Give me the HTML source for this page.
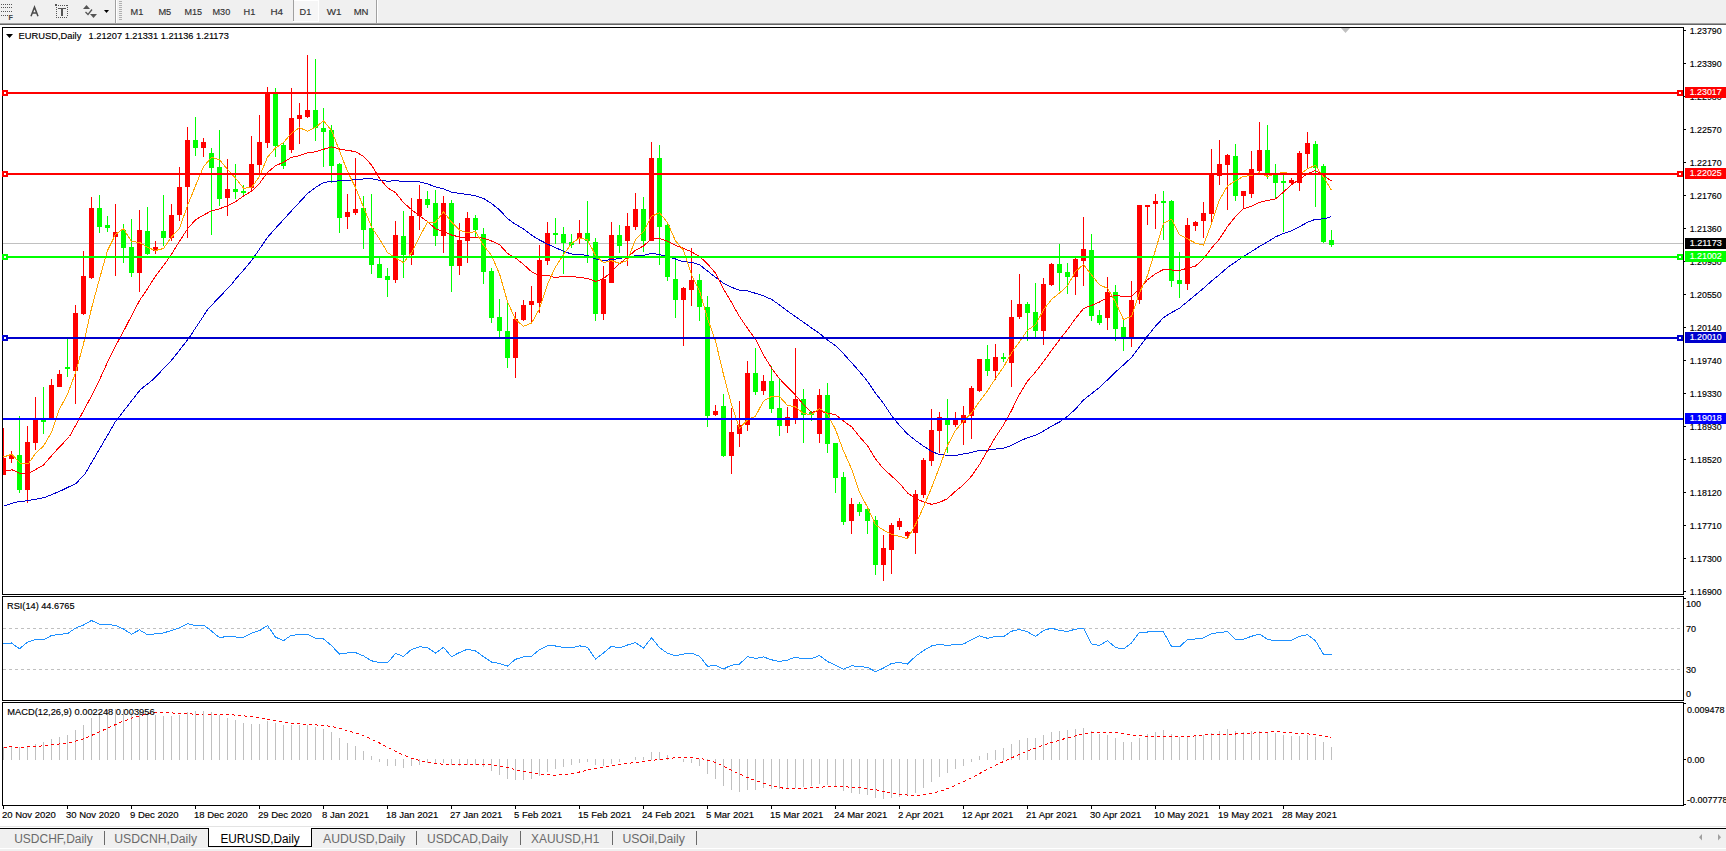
<!DOCTYPE html>
<html><head><meta charset="utf-8"><style>html,body{margin:0;padding:0;background:#fff;width:1726px;height:851px;overflow:hidden}svg{display:block}text{font-family:"Liberation Sans",sans-serif}</style></head>
<body><svg width="1726" height="851" viewBox="0 0 1726 851" font-family="Liberation Sans, sans-serif"><rect x="0" y="0" width="1726" height="23" fill="#f0f0f0"/>
<rect x="0" y="23" width="1726" height="1" fill="#a0a0a0"/>
<rect x="0" y="24" width="1726" height="1" fill="#646464"/>
<rect x="1" y="4" width="1" height="1" fill="#555"/>
<rect x="3" y="4" width="1" height="1" fill="#555"/>
<rect x="5" y="4" width="1" height="1" fill="#555"/>
<rect x="7" y="4" width="1" height="1" fill="#555"/>
<rect x="9" y="4" width="1" height="1" fill="#555"/>
<rect x="11" y="4" width="1" height="1" fill="#555"/>
<rect x="1" y="7" width="1" height="1" fill="#555"/>
<rect x="3" y="7" width="1" height="1" fill="#555"/>
<rect x="5" y="7" width="1" height="1" fill="#555"/>
<rect x="7" y="7" width="1" height="1" fill="#555"/>
<rect x="9" y="7" width="1" height="1" fill="#555"/>
<rect x="11" y="7" width="1" height="1" fill="#555"/>
<rect x="1" y="11" width="1" height="1" fill="#555"/>
<rect x="3" y="11" width="1" height="1" fill="#555"/>
<rect x="5" y="11" width="1" height="1" fill="#555"/>
<rect x="7" y="11" width="1" height="1" fill="#555"/>
<rect x="9" y="11" width="1" height="1" fill="#555"/>
<rect x="11" y="11" width="1" height="1" fill="#555"/>
<rect x="1" y="15" width="1" height="1" fill="#555"/>
<rect x="3" y="15" width="1" height="1" fill="#555"/>
<rect x="5" y="15" width="1" height="1" fill="#555"/>
<rect x="7" y="15" width="1" height="1" fill="#555"/>
<text x="8.5" y="20" font-size="7" fill="#444" stroke="#444" stroke-width="0.15" font-weight="bold">F</text>
<path d="M31 16.3 L34.5 7.2 L38 16.3 M32.3 13 L36.7 13" stroke="#4a4a4a" stroke-width="1.5" fill="none"/>
<rect x="56" y="5" width="1" height="1" fill="#555"/>
<rect x="56" y="17" width="1" height="1" fill="#555"/>
<rect x="58" y="5" width="1" height="1" fill="#555"/>
<rect x="58" y="17" width="1" height="1" fill="#555"/>
<rect x="60" y="5" width="1" height="1" fill="#555"/>
<rect x="60" y="17" width="1" height="1" fill="#555"/>
<rect x="62" y="5" width="1" height="1" fill="#555"/>
<rect x="62" y="17" width="1" height="1" fill="#555"/>
<rect x="64" y="5" width="1" height="1" fill="#555"/>
<rect x="64" y="17" width="1" height="1" fill="#555"/>
<rect x="66" y="5" width="1" height="1" fill="#555"/>
<rect x="66" y="17" width="1" height="1" fill="#555"/>
<rect x="56" y="7" width="1" height="1" fill="#555"/>
<rect x="67" y="5" width="1" height="1" fill="#555"/>
<rect x="56" y="9" width="1" height="1" fill="#555"/>
<rect x="67" y="7" width="1" height="1" fill="#555"/>
<rect x="56" y="11" width="1" height="1" fill="#555"/>
<rect x="67" y="9" width="1" height="1" fill="#555"/>
<rect x="56" y="13" width="1" height="1" fill="#555"/>
<rect x="67" y="11" width="1" height="1" fill="#555"/>
<rect x="56" y="15" width="1" height="1" fill="#555"/>
<rect x="67" y="13" width="1" height="1" fill="#555"/>
<rect x="56" y="17" width="1" height="1" fill="#555"/>
<rect x="67" y="15" width="1" height="1" fill="#555"/>
<rect x="55" y="4" width="2" height="2" fill="#555"/>
<rect x="58" y="8" width="8" height="1" fill="#555"/>
<rect x="61" y="8" width="2" height="8" fill="#555"/>
<path d="M83 9 L86.5 5 L90 9 Z" fill="#555"/>
<path d="M90 14 L97 14 L93.5 18 Z" fill="#555"/>
<path d="M85.5 12 L88 14.5 L92 9.5" stroke="#555" stroke-width="1.3" fill="none"/>
<path d="M104 10 L109 10 L106.5 13 Z" fill="#000"/>
<rect x="115" y="0" width="1" height="23" fill="#a0a0a0"/>
<rect x="116" y="0" width="1" height="23" fill="#ffffff"/>
<rect x="119" y="1" width="3" height="1" fill="#b0b0b0"/>
<rect x="119" y="3" width="3" height="1" fill="#b0b0b0"/>
<rect x="119" y="5" width="3" height="1" fill="#b0b0b0"/>
<rect x="119" y="7" width="3" height="1" fill="#b0b0b0"/>
<rect x="119" y="9" width="3" height="1" fill="#b0b0b0"/>
<rect x="119" y="11" width="3" height="1" fill="#b0b0b0"/>
<rect x="119" y="13" width="3" height="1" fill="#b0b0b0"/>
<rect x="119" y="15" width="3" height="1" fill="#b0b0b0"/>
<rect x="119" y="17" width="3" height="1" fill="#b0b0b0"/>
<rect x="119" y="19" width="3" height="1" fill="#b0b0b0"/>
<rect x="293" y="0" width="26" height="22" fill="#ffffff"/>
<rect x="294" y="1" width="24" height="20" fill="#f6f6f6"/>
<rect x="293" y="0" width="1" height="21" fill="#a0a0a0"/>
<rect x="376" y="0" width="1" height="23" fill="#a0a0a0"/>
<rect x="377" y="0" width="1" height="23" fill="#ffffff"/>
<text x="130.5" y="15" font-size="9" fill="#333" stroke="#333" stroke-width="0.15" textLength="12.8" lengthAdjust="spacingAndGlyphs">M1</text>
<text x="158.4" y="15" font-size="9" fill="#333" stroke="#333" stroke-width="0.15" textLength="12.9" lengthAdjust="spacingAndGlyphs">M5</text>
<text x="184.5" y="15" font-size="9" fill="#333" stroke="#333" stroke-width="0.15" textLength="17.6" lengthAdjust="spacingAndGlyphs">M15</text>
<text x="212.5" y="15" font-size="9" fill="#333" stroke="#333" stroke-width="0.15" textLength="17.7" lengthAdjust="spacingAndGlyphs">M30</text>
<text x="243.6" y="15" font-size="9" fill="#333" stroke="#333" stroke-width="0.15" textLength="11.8" lengthAdjust="spacingAndGlyphs">H1</text>
<text x="270.5" y="15" font-size="9" fill="#333" stroke="#333" stroke-width="0.15" textLength="12.6" lengthAdjust="spacingAndGlyphs">H4</text>
<text x="299.6" y="15" font-size="9" fill="#333" stroke="#333" stroke-width="0.15" textLength="11.7" lengthAdjust="spacingAndGlyphs">D1</text>
<text x="326.8" y="15" font-size="9" fill="#333" stroke="#333" stroke-width="0.15" textLength="14.8" lengthAdjust="spacingAndGlyphs">W1</text>
<text x="353.7" y="15" font-size="9" fill="#333" stroke="#333" stroke-width="0.15" textLength="14.8" lengthAdjust="spacingAndGlyphs">MN</text>
<rect x="2" y="27" width="1682" height="1" fill="#000"/>
<rect x="2" y="594" width="1682" height="1" fill="#000"/>
<rect x="2" y="27" width="1" height="568" fill="#000"/>
<rect x="1683" y="27" width="1" height="568" fill="#000"/>
<rect x="2" y="596" width="1682" height="1" fill="#000"/>
<rect x="2" y="700" width="1682" height="1" fill="#000"/>
<rect x="2" y="596" width="1" height="105" fill="#000"/>
<rect x="1683" y="596" width="1" height="105" fill="#000"/>
<rect x="2" y="702" width="1682" height="1" fill="#000"/>
<rect x="2" y="805" width="1682" height="1" fill="#000"/>
<rect x="2" y="702" width="1" height="104" fill="#000"/>
<rect x="1683" y="702" width="1" height="104" fill="#000"/>
<g shape-rendering="crispEdges">
<clipPath id="cm"><rect x="3" y="28" width="1680" height="566"/></clipPath>
<clipPath id="cr"><rect x="3" y="597" width="1680" height="103"/></clipPath>
<clipPath id="cd"><rect x="3" y="703" width="1680" height="102"/></clipPath>
</g>
<rect x="3" y="243" width="1680" height="1" fill="#c0c0c0"/>
<path d="M1341 28 L1350 28 L1345.5 33 Z" fill="#c0c0c0"/>
<g clip-path="url(#cm)" shape-rendering="crispEdges">
<rect x="3" y="428" width="1" height="47" fill="#ff0000"/>
<rect x="1" y="458" width="5" height="17" fill="#ff0000"/>
<rect x="11" y="451" width="1" height="12" fill="#ff0000"/>
<rect x="9" y="455" width="5" height="4" fill="#ff0000"/>
<rect x="19" y="416" width="1" height="77" fill="#00ff00"/>
<rect x="17" y="455" width="5" height="35" fill="#00ff00"/>
<rect x="27" y="426" width="1" height="77" fill="#ff0000"/>
<rect x="25" y="442" width="5" height="48" fill="#ff0000"/>
<rect x="35" y="397" width="1" height="53" fill="#ff0000"/>
<rect x="33" y="420" width="5" height="23" fill="#ff0000"/>
<rect x="43" y="387" width="1" height="47" fill="#00ff00"/>
<rect x="41" y="420" width="5" height="2" fill="#00ff00"/>
<rect x="51" y="379" width="1" height="40" fill="#ff0000"/>
<rect x="49" y="385" width="5" height="34" fill="#ff0000"/>
<rect x="59" y="370" width="1" height="17" fill="#ff0000"/>
<rect x="57" y="374" width="5" height="13" fill="#ff0000"/>
<rect x="67" y="339" width="1" height="38" fill="#00ff00"/>
<rect x="65" y="367" width="5" height="2" fill="#00ff00"/>
<rect x="75" y="305" width="1" height="99" fill="#ff0000"/>
<rect x="73" y="313" width="5" height="58" fill="#ff0000"/>
<rect x="83" y="251" width="1" height="64" fill="#ff0000"/>
<rect x="81" y="276" width="5" height="38" fill="#ff0000"/>
<rect x="91" y="197" width="1" height="82" fill="#ff0000"/>
<rect x="89" y="208" width="5" height="70" fill="#ff0000"/>
<rect x="99" y="195" width="1" height="38" fill="#00ff00"/>
<rect x="97" y="208" width="5" height="19" fill="#00ff00"/>
<rect x="107" y="216" width="1" height="16" fill="#00ff00"/>
<rect x="105" y="225" width="5" height="3" fill="#00ff00"/>
<rect x="115" y="204" width="1" height="72" fill="#ff0000"/>
<rect x="113" y="232" width="5" height="5" fill="#ff0000"/>
<rect x="123" y="224" width="1" height="39" fill="#00ff00"/>
<rect x="121" y="230" width="5" height="18" fill="#00ff00"/>
<rect x="131" y="219" width="1" height="58" fill="#00ff00"/>
<rect x="129" y="247" width="5" height="26" fill="#00ff00"/>
<rect x="139" y="210" width="1" height="82" fill="#ff0000"/>
<rect x="137" y="230" width="5" height="43" fill="#ff0000"/>
<rect x="147" y="207" width="1" height="48" fill="#00ff00"/>
<rect x="145" y="231" width="5" height="23" fill="#00ff00"/>
<rect x="155" y="241" width="1" height="13" fill="#ff0000"/>
<rect x="153" y="247" width="5" height="4" fill="#ff0000"/>
<rect x="163" y="195" width="1" height="51" fill="#00ff00"/>
<rect x="161" y="231" width="5" height="7" fill="#00ff00"/>
<rect x="171" y="204" width="1" height="37" fill="#ff0000"/>
<rect x="169" y="215" width="5" height="23" fill="#ff0000"/>
<rect x="179" y="167" width="1" height="54" fill="#ff0000"/>
<rect x="177" y="187" width="5" height="28" fill="#ff0000"/>
<rect x="187" y="127" width="1" height="111" fill="#ff0000"/>
<rect x="185" y="140" width="5" height="47" fill="#ff0000"/>
<rect x="195" y="117" width="1" height="39" fill="#00ff00"/>
<rect x="193" y="140" width="5" height="8" fill="#00ff00"/>
<rect x="203" y="138" width="1" height="19" fill="#ff0000"/>
<rect x="201" y="142" width="5" height="6" fill="#ff0000"/>
<rect x="211" y="148" width="1" height="87" fill="#00ff00"/>
<rect x="209" y="153" width="5" height="15" fill="#00ff00"/>
<rect x="219" y="130" width="1" height="76" fill="#00ff00"/>
<rect x="217" y="167" width="5" height="32" fill="#00ff00"/>
<rect x="227" y="159" width="1" height="57" fill="#ff0000"/>
<rect x="225" y="189" width="5" height="9" fill="#ff0000"/>
<rect x="235" y="164" width="1" height="35" fill="#00ff00"/>
<rect x="233" y="189" width="5" height="3" fill="#00ff00"/>
<rect x="243" y="185" width="1" height="12" fill="#00ff00"/>
<rect x="241" y="191" width="5" height="2" fill="#00ff00"/>
<rect x="251" y="136" width="1" height="56" fill="#ff0000"/>
<rect x="249" y="164" width="5" height="24" fill="#ff0000"/>
<rect x="259" y="115" width="1" height="58" fill="#ff0000"/>
<rect x="257" y="142" width="5" height="23" fill="#ff0000"/>
<rect x="267" y="87" width="1" height="61" fill="#ff0000"/>
<rect x="265" y="92" width="5" height="51" fill="#ff0000"/>
<rect x="275" y="88" width="1" height="69" fill="#00ff00"/>
<rect x="273" y="94" width="5" height="52" fill="#00ff00"/>
<rect x="283" y="142" width="1" height="27" fill="#00ff00"/>
<rect x="281" y="145" width="5" height="21" fill="#00ff00"/>
<rect x="291" y="88" width="1" height="65" fill="#ff0000"/>
<rect x="289" y="118" width="5" height="32" fill="#ff0000"/>
<rect x="299" y="103" width="1" height="41" fill="#ff0000"/>
<rect x="297" y="115" width="5" height="4" fill="#ff0000"/>
<rect x="307" y="55" width="1" height="63" fill="#ff0000"/>
<rect x="305" y="110" width="5" height="7" fill="#ff0000"/>
<rect x="315" y="59" width="1" height="82" fill="#00ff00"/>
<rect x="313" y="110" width="5" height="18" fill="#00ff00"/>
<rect x="323" y="108" width="1" height="59" fill="#00ff00"/>
<rect x="321" y="128" width="5" height="4" fill="#00ff00"/>
<rect x="331" y="125" width="1" height="58" fill="#00ff00"/>
<rect x="329" y="130" width="5" height="36" fill="#00ff00"/>
<rect x="339" y="163" width="1" height="70" fill="#00ff00"/>
<rect x="337" y="164" width="5" height="54" fill="#00ff00"/>
<rect x="347" y="194" width="1" height="35" fill="#ff0000"/>
<rect x="345" y="212" width="5" height="5" fill="#ff0000"/>
<rect x="355" y="158" width="1" height="57" fill="#ff0000"/>
<rect x="353" y="209" width="5" height="4" fill="#ff0000"/>
<rect x="363" y="196" width="1" height="53" fill="#00ff00"/>
<rect x="361" y="208" width="5" height="22" fill="#00ff00"/>
<rect x="371" y="194" width="1" height="80" fill="#00ff00"/>
<rect x="369" y="228" width="5" height="37" fill="#00ff00"/>
<rect x="379" y="258" width="1" height="20" fill="#00ff00"/>
<rect x="377" y="264" width="5" height="14" fill="#00ff00"/>
<rect x="387" y="268" width="1" height="29" fill="#00ff00"/>
<rect x="385" y="276" width="5" height="4" fill="#00ff00"/>
<rect x="395" y="221" width="1" height="62" fill="#ff0000"/>
<rect x="393" y="235" width="5" height="45" fill="#ff0000"/>
<rect x="403" y="211" width="1" height="67" fill="#00ff00"/>
<rect x="401" y="236" width="5" height="19" fill="#00ff00"/>
<rect x="411" y="198" width="1" height="67" fill="#ff0000"/>
<rect x="409" y="216" width="5" height="39" fill="#ff0000"/>
<rect x="419" y="185" width="1" height="45" fill="#ff0000"/>
<rect x="417" y="199" width="5" height="17" fill="#ff0000"/>
<rect x="427" y="191" width="1" height="17" fill="#00ff00"/>
<rect x="425" y="199" width="5" height="6" fill="#00ff00"/>
<rect x="435" y="190" width="1" height="56" fill="#00ff00"/>
<rect x="433" y="203" width="5" height="33" fill="#00ff00"/>
<rect x="443" y="196" width="1" height="57" fill="#ff0000"/>
<rect x="441" y="203" width="5" height="33" fill="#ff0000"/>
<rect x="451" y="200" width="1" height="92" fill="#00ff00"/>
<rect x="449" y="203" width="5" height="63" fill="#00ff00"/>
<rect x="459" y="223" width="1" height="52" fill="#ff0000"/>
<rect x="457" y="240" width="5" height="26" fill="#ff0000"/>
<rect x="467" y="212" width="1" height="51" fill="#ff0000"/>
<rect x="465" y="218" width="5" height="23" fill="#ff0000"/>
<rect x="475" y="215" width="1" height="23" fill="#00ff00"/>
<rect x="473" y="218" width="5" height="12" fill="#00ff00"/>
<rect x="483" y="228" width="1" height="56" fill="#00ff00"/>
<rect x="481" y="234" width="5" height="38" fill="#00ff00"/>
<rect x="491" y="268" width="1" height="55" fill="#00ff00"/>
<rect x="489" y="271" width="5" height="47" fill="#00ff00"/>
<rect x="499" y="299" width="1" height="38" fill="#00ff00"/>
<rect x="497" y="317" width="5" height="14" fill="#00ff00"/>
<rect x="507" y="303" width="1" height="65" fill="#00ff00"/>
<rect x="505" y="331" width="5" height="27" fill="#00ff00"/>
<rect x="515" y="312" width="1" height="66" fill="#ff0000"/>
<rect x="513" y="319" width="5" height="39" fill="#ff0000"/>
<rect x="523" y="300" width="1" height="21" fill="#ff0000"/>
<rect x="521" y="305" width="5" height="15" fill="#ff0000"/>
<rect x="531" y="286" width="1" height="37" fill="#ff0000"/>
<rect x="529" y="301" width="5" height="4" fill="#ff0000"/>
<rect x="539" y="245" width="1" height="68" fill="#ff0000"/>
<rect x="537" y="260" width="5" height="43" fill="#ff0000"/>
<rect x="547" y="222" width="1" height="43" fill="#ff0000"/>
<rect x="545" y="233" width="5" height="28" fill="#ff0000"/>
<rect x="555" y="218" width="1" height="26" fill="#00ff00"/>
<rect x="553" y="233" width="5" height="2" fill="#00ff00"/>
<rect x="563" y="227" width="1" height="47" fill="#00ff00"/>
<rect x="561" y="234" width="5" height="9" fill="#00ff00"/>
<rect x="571" y="234" width="1" height="14" fill="#00ff00"/>
<rect x="569" y="242" width="5" height="3" fill="#00ff00"/>
<rect x="579" y="220" width="1" height="24" fill="#ff0000"/>
<rect x="577" y="233" width="5" height="6" fill="#ff0000"/>
<rect x="587" y="201" width="1" height="62" fill="#00ff00"/>
<rect x="585" y="233" width="5" height="8" fill="#00ff00"/>
<rect x="595" y="238" width="1" height="83" fill="#00ff00"/>
<rect x="593" y="242" width="5" height="72" fill="#00ff00"/>
<rect x="603" y="266" width="1" height="54" fill="#ff0000"/>
<rect x="601" y="279" width="5" height="35" fill="#ff0000"/>
<rect x="611" y="222" width="1" height="61" fill="#ff0000"/>
<rect x="609" y="235" width="5" height="48" fill="#ff0000"/>
<rect x="619" y="225" width="1" height="28" fill="#00ff00"/>
<rect x="617" y="235" width="5" height="11" fill="#00ff00"/>
<rect x="627" y="213" width="1" height="53" fill="#ff0000"/>
<rect x="625" y="226" width="5" height="15" fill="#ff0000"/>
<rect x="635" y="193" width="1" height="37" fill="#ff0000"/>
<rect x="633" y="209" width="5" height="18" fill="#ff0000"/>
<rect x="643" y="197" width="1" height="55" fill="#00ff00"/>
<rect x="641" y="209" width="5" height="32" fill="#00ff00"/>
<rect x="651" y="142" width="1" height="99" fill="#ff0000"/>
<rect x="649" y="158" width="5" height="83" fill="#ff0000"/>
<rect x="659" y="145" width="1" height="120" fill="#00ff00"/>
<rect x="657" y="158" width="5" height="69" fill="#00ff00"/>
<rect x="667" y="224" width="1" height="57" fill="#00ff00"/>
<rect x="665" y="225" width="5" height="52" fill="#00ff00"/>
<rect x="675" y="260" width="1" height="58" fill="#00ff00"/>
<rect x="673" y="279" width="5" height="21" fill="#00ff00"/>
<rect x="683" y="287" width="1" height="59" fill="#ff0000"/>
<rect x="681" y="288" width="5" height="12" fill="#ff0000"/>
<rect x="691" y="248" width="1" height="58" fill="#ff0000"/>
<rect x="689" y="280" width="5" height="10" fill="#ff0000"/>
<rect x="699" y="274" width="1" height="47" fill="#00ff00"/>
<rect x="697" y="280" width="5" height="27" fill="#00ff00"/>
<rect x="707" y="296" width="1" height="131" fill="#00ff00"/>
<rect x="705" y="307" width="5" height="109" fill="#00ff00"/>
<rect x="715" y="405" width="1" height="11" fill="#ff0000"/>
<rect x="713" y="411" width="5" height="4" fill="#ff0000"/>
<rect x="723" y="394" width="1" height="63" fill="#00ff00"/>
<rect x="721" y="406" width="5" height="50" fill="#00ff00"/>
<rect x="731" y="408" width="1" height="66" fill="#ff0000"/>
<rect x="729" y="432" width="5" height="24" fill="#ff0000"/>
<rect x="739" y="401" width="1" height="46" fill="#ff0000"/>
<rect x="737" y="425" width="5" height="9" fill="#ff0000"/>
<rect x="747" y="361" width="1" height="70" fill="#ff0000"/>
<rect x="745" y="373" width="5" height="52" fill="#ff0000"/>
<rect x="755" y="348" width="1" height="47" fill="#00ff00"/>
<rect x="753" y="373" width="5" height="19" fill="#00ff00"/>
<rect x="763" y="375" width="1" height="20" fill="#ff0000"/>
<rect x="761" y="381" width="5" height="10" fill="#ff0000"/>
<rect x="771" y="366" width="1" height="47" fill="#00ff00"/>
<rect x="769" y="381" width="5" height="28" fill="#00ff00"/>
<rect x="779" y="378" width="1" height="58" fill="#00ff00"/>
<rect x="777" y="408" width="5" height="18" fill="#00ff00"/>
<rect x="787" y="407" width="1" height="26" fill="#ff0000"/>
<rect x="785" y="417" width="5" height="9" fill="#ff0000"/>
<rect x="795" y="348" width="1" height="76" fill="#ff0000"/>
<rect x="793" y="399" width="5" height="19" fill="#ff0000"/>
<rect x="803" y="389" width="1" height="54" fill="#00ff00"/>
<rect x="801" y="399" width="5" height="16" fill="#00ff00"/>
<rect x="811" y="411" width="1" height="10" fill="#00ff00"/>
<rect x="809" y="412" width="5" height="3" fill="#00ff00"/>
<rect x="819" y="389" width="1" height="54" fill="#ff0000"/>
<rect x="817" y="395" width="5" height="39" fill="#ff0000"/>
<rect x="827" y="383" width="1" height="70" fill="#00ff00"/>
<rect x="825" y="395" width="5" height="49" fill="#00ff00"/>
<rect x="835" y="443" width="1" height="50" fill="#00ff00"/>
<rect x="833" y="443" width="5" height="35" fill="#00ff00"/>
<rect x="843" y="472" width="1" height="53" fill="#00ff00"/>
<rect x="841" y="477" width="5" height="45" fill="#00ff00"/>
<rect x="851" y="498" width="1" height="36" fill="#ff0000"/>
<rect x="849" y="504" width="5" height="17" fill="#ff0000"/>
<rect x="859" y="502" width="1" height="14" fill="#00ff00"/>
<rect x="857" y="504" width="5" height="8" fill="#00ff00"/>
<rect x="867" y="507" width="1" height="27" fill="#00ff00"/>
<rect x="865" y="509" width="5" height="12" fill="#00ff00"/>
<rect x="875" y="516" width="1" height="59" fill="#00ff00"/>
<rect x="873" y="520" width="5" height="45" fill="#00ff00"/>
<rect x="883" y="535" width="1" height="46" fill="#ff0000"/>
<rect x="881" y="548" width="5" height="17" fill="#ff0000"/>
<rect x="891" y="523" width="1" height="51" fill="#ff0000"/>
<rect x="889" y="525" width="5" height="25" fill="#ff0000"/>
<rect x="899" y="518" width="1" height="12" fill="#ff0000"/>
<rect x="897" y="521" width="5" height="6" fill="#ff0000"/>
<rect x="907" y="531" width="1" height="8" fill="#ff0000"/>
<rect x="905" y="532" width="5" height="4" fill="#ff0000"/>
<rect x="915" y="490" width="1" height="64" fill="#ff0000"/>
<rect x="913" y="494" width="5" height="39" fill="#ff0000"/>
<rect x="923" y="458" width="1" height="40" fill="#ff0000"/>
<rect x="921" y="460" width="5" height="35" fill="#ff0000"/>
<rect x="931" y="409" width="1" height="57" fill="#ff0000"/>
<rect x="929" y="430" width="5" height="31" fill="#ff0000"/>
<rect x="939" y="412" width="1" height="41" fill="#ff0000"/>
<rect x="937" y="417" width="5" height="14" fill="#ff0000"/>
<rect x="947" y="399" width="1" height="54" fill="#00ff00"/>
<rect x="945" y="420" width="5" height="5" fill="#00ff00"/>
<rect x="955" y="412" width="1" height="15" fill="#ff0000"/>
<rect x="953" y="418" width="5" height="7" fill="#ff0000"/>
<rect x="963" y="406" width="1" height="39" fill="#ff0000"/>
<rect x="961" y="415" width="5" height="8" fill="#ff0000"/>
<rect x="971" y="386" width="1" height="53" fill="#ff0000"/>
<rect x="969" y="388" width="5" height="28" fill="#ff0000"/>
<rect x="979" y="359" width="1" height="33" fill="#ff0000"/>
<rect x="977" y="359" width="5" height="32" fill="#ff0000"/>
<rect x="987" y="345" width="1" height="31" fill="#00ff00"/>
<rect x="985" y="359" width="5" height="12" fill="#00ff00"/>
<rect x="995" y="344" width="1" height="36" fill="#ff0000"/>
<rect x="993" y="357" width="5" height="14" fill="#ff0000"/>
<rect x="1003" y="353" width="1" height="9" fill="#00ff00"/>
<rect x="1001" y="357" width="5" height="2" fill="#00ff00"/>
<rect x="1011" y="300" width="1" height="87" fill="#ff0000"/>
<rect x="1009" y="317" width="5" height="46" fill="#ff0000"/>
<rect x="1019" y="274" width="1" height="45" fill="#ff0000"/>
<rect x="1017" y="304" width="5" height="13" fill="#ff0000"/>
<rect x="1027" y="302" width="1" height="39" fill="#00ff00"/>
<rect x="1025" y="304" width="5" height="9" fill="#00ff00"/>
<rect x="1035" y="283" width="1" height="54" fill="#00ff00"/>
<rect x="1033" y="312" width="5" height="19" fill="#00ff00"/>
<rect x="1043" y="278" width="1" height="67" fill="#ff0000"/>
<rect x="1041" y="284" width="5" height="47" fill="#ff0000"/>
<rect x="1051" y="263" width="1" height="23" fill="#ff0000"/>
<rect x="1049" y="264" width="5" height="21" fill="#ff0000"/>
<rect x="1059" y="244" width="1" height="47" fill="#00ff00"/>
<rect x="1057" y="264" width="5" height="9" fill="#00ff00"/>
<rect x="1067" y="263" width="1" height="31" fill="#00ff00"/>
<rect x="1065" y="272" width="5" height="5" fill="#00ff00"/>
<rect x="1075" y="258" width="1" height="37" fill="#ff0000"/>
<rect x="1073" y="259" width="5" height="18" fill="#ff0000"/>
<rect x="1083" y="217" width="1" height="69" fill="#ff0000"/>
<rect x="1081" y="249" width="5" height="12" fill="#ff0000"/>
<rect x="1091" y="234" width="1" height="87" fill="#00ff00"/>
<rect x="1089" y="250" width="5" height="66" fill="#00ff00"/>
<rect x="1099" y="310" width="1" height="15" fill="#00ff00"/>
<rect x="1097" y="315" width="5" height="8" fill="#00ff00"/>
<rect x="1107" y="277" width="1" height="53" fill="#ff0000"/>
<rect x="1105" y="292" width="5" height="26" fill="#ff0000"/>
<rect x="1115" y="285" width="1" height="56" fill="#00ff00"/>
<rect x="1113" y="292" width="5" height="37" fill="#00ff00"/>
<rect x="1123" y="319" width="1" height="32" fill="#00ff00"/>
<rect x="1121" y="327" width="5" height="10" fill="#00ff00"/>
<rect x="1131" y="281" width="1" height="66" fill="#ff0000"/>
<rect x="1129" y="300" width="5" height="37" fill="#ff0000"/>
<rect x="1139" y="205" width="1" height="99" fill="#ff0000"/>
<rect x="1137" y="205" width="5" height="95" fill="#ff0000"/>
<rect x="1147" y="205" width="1" height="20" fill="#ff0000"/>
<rect x="1145" y="205" width="5" height="2" fill="#ff0000"/>
<rect x="1155" y="194" width="1" height="35" fill="#ff0000"/>
<rect x="1153" y="201" width="5" height="3" fill="#ff0000"/>
<rect x="1163" y="191" width="1" height="49" fill="#00ff00"/>
<rect x="1161" y="201" width="5" height="2" fill="#00ff00"/>
<rect x="1171" y="200" width="1" height="87" fill="#00ff00"/>
<rect x="1169" y="201" width="5" height="80" fill="#00ff00"/>
<rect x="1179" y="252" width="1" height="46" fill="#00ff00"/>
<rect x="1177" y="280" width="5" height="4" fill="#00ff00"/>
<rect x="1187" y="218" width="1" height="72" fill="#ff0000"/>
<rect x="1185" y="225" width="5" height="59" fill="#ff0000"/>
<rect x="1195" y="221" width="1" height="10" fill="#ff0000"/>
<rect x="1193" y="222" width="5" height="4" fill="#ff0000"/>
<rect x="1203" y="202" width="1" height="36" fill="#ff0000"/>
<rect x="1201" y="213" width="5" height="8" fill="#ff0000"/>
<rect x="1211" y="149" width="1" height="75" fill="#ff0000"/>
<rect x="1209" y="174" width="5" height="40" fill="#ff0000"/>
<rect x="1219" y="140" width="1" height="45" fill="#ff0000"/>
<rect x="1217" y="164" width="5" height="12" fill="#ff0000"/>
<rect x="1227" y="154" width="1" height="56" fill="#ff0000"/>
<rect x="1225" y="155" width="5" height="10" fill="#ff0000"/>
<rect x="1235" y="144" width="1" height="57" fill="#00ff00"/>
<rect x="1233" y="156" width="5" height="40" fill="#00ff00"/>
<rect x="1243" y="191" width="1" height="18" fill="#ff0000"/>
<rect x="1241" y="191" width="5" height="5" fill="#ff0000"/>
<rect x="1251" y="151" width="1" height="47" fill="#ff0000"/>
<rect x="1249" y="169" width="5" height="25" fill="#ff0000"/>
<rect x="1259" y="122" width="1" height="51" fill="#ff0000"/>
<rect x="1257" y="150" width="5" height="21" fill="#ff0000"/>
<rect x="1267" y="125" width="1" height="54" fill="#00ff00"/>
<rect x="1265" y="150" width="5" height="25" fill="#00ff00"/>
<rect x="1275" y="164" width="1" height="34" fill="#00ff00"/>
<rect x="1273" y="174" width="5" height="9" fill="#00ff00"/>
<rect x="1283" y="173" width="1" height="59" fill="#00ff00"/>
<rect x="1281" y="181" width="5" height="2" fill="#00ff00"/>
<rect x="1291" y="178" width="1" height="7" fill="#ff0000"/>
<rect x="1289" y="180" width="5" height="3" fill="#ff0000"/>
<rect x="1299" y="151" width="1" height="40" fill="#ff0000"/>
<rect x="1297" y="153" width="5" height="30" fill="#ff0000"/>
<rect x="1307" y="132" width="1" height="36" fill="#ff0000"/>
<rect x="1305" y="143" width="5" height="11" fill="#ff0000"/>
<rect x="1315" y="141" width="1" height="66" fill="#00ff00"/>
<rect x="1313" y="144" width="5" height="24" fill="#00ff00"/>
<rect x="1323" y="164" width="1" height="79" fill="#00ff00"/>
<rect x="1321" y="166" width="5" height="76" fill="#00ff00"/>
<rect x="1331" y="230" width="1" height="17" fill="#00ff00"/>
<rect x="1329" y="240" width="5" height="5" fill="#00ff00"/>
</g>
<polyline clip-path="url(#cm)" points="3.5,506.3 15.3,502.2 28.5,500.5 44.9,497.5 61.4,490.5 76.2,483.3 85.2,473.5 99.2,449.5 115.5,421.5 132.1,400.2 140.5,389.5 153.2,379.5 172.2,359.5 188.7,338.4 208.2,308.8 231.5,284.5 235.5,279.2 243.5,270.3 251.5,260.7 259.5,249.1 267.5,237.4 275.5,228.3 283.5,219.7 291.5,210.8 299.5,202.2 307.5,193.6 315.5,187.4 323.5,182.6 331.5,181.2 339.5,180.9 347.5,180.3 355.5,179.6 363.5,179.0 371.5,178.7 379.5,180.3 387.5,181.2 395.5,180.8 403.5,181.3 411.5,181.4 419.5,181.8 427.5,183.9 435.5,186.9 443.5,188.9 451.5,192.1 459.5,193.5 467.5,194.5 475.5,195.8 483.5,198.4 491.5,203.5 499.5,209.8 507.5,218.6 515.5,224.3 523.5,229.0 531.5,235.1 539.5,240.0 547.5,244.1 555.5,247.6 563.5,251.3 571.5,254.0 579.5,254.5 587.5,255.5 595.5,258.9 603.5,260.6 611.5,259.6 619.5,258.5 627.5,256.7 635.5,255.9 643.5,255.4 651.5,253.5 659.5,254.5 667.5,256.9 675.5,259.0 683.5,261.8 691.5,262.3 699.5,264.6 707.5,271.1 715.5,277.2 723.5,283.4 731.5,287.2 739.5,290.3 747.5,290.9 755.5,293.3 763.5,295.8 771.5,299.4 779.5,304.9 787.5,311.1 795.5,316.6 803.5,322.3 811.5,327.9 819.5,333.4 827.5,340.1 835.5,345.6 843.5,353.7 851.5,362.6 859.5,371.5 867.5,381.3 875.5,393.2 883.5,403.4 891.5,415.6 899.5,425.4 907.5,434.0 915.5,440.4 923.5,446.2 931.5,451.2 939.5,454.8 947.5,455.1 955.5,455.4 963.5,454.0 971.5,452.5 979.5,450.3 987.5,450.2 995.5,449.1 1003.5,448.3 1011.5,445.3 1019.5,441.2 1027.5,437.7 1035.5,435.4 1043.5,431.1 1051.5,426.1 1059.5,422.0 1067.5,416.4 1075.5,409.1 1083.5,400.0 1091.5,393.7 1099.5,387.4 1107.5,379.9 1115.5,372.0 1123.5,364.9 1131.5,357.4 1139.5,346.9 1147.5,336.0 1155.5,326.2 1163.5,317.6 1171.5,312.6 1179.5,308.2 1187.5,301.5 1195.5,295.0 1203.5,288.2 1211.5,281.1 1219.5,274.6 1227.5,267.4 1235.5,262.0 1243.5,256.4 1251.5,251.5 1259.5,246.4 1267.5,241.8 1275.5,236.9 1283.5,233.5 1291.5,230.7 1299.5,226.7 1307.5,222.3 1315.5,219.2 1323.5,218.9 1331.5,216.6" fill="none" stroke="#0000cd" stroke-width="1" shape-rendering="crispEdges"/>
<polyline clip-path="url(#cm)" points="3.5,471.0 12.0,469.8 20.2,473.5 28.5,473.5 43.3,465.2 54.8,452.0 69.5,436.5 79.5,418.3 91.0,396.9 99.2,380.5 107.5,362.2 115.5,346.1 123.5,331.3 131.5,315.8 139.5,300.6 147.5,288.7 155.5,276.2 163.5,265.7 171.5,254.3 179.5,241.3 187.5,228.9 195.5,219.8 203.5,215.1 211.5,210.9 219.5,208.8 227.5,205.7 235.5,201.7 243.5,196.0 251.5,191.3 259.5,183.4 267.5,172.4 275.5,165.8 283.5,162.3 291.5,157.3 299.5,155.6 307.5,152.9 315.5,151.8 323.5,149.3 331.5,146.9 339.5,149.0 347.5,150.4 355.5,151.6 363.5,156.3 371.5,165.0 379.5,178.2 387.5,187.7 395.5,192.7 403.5,202.5 411.5,209.7 419.5,216.0 427.5,221.5 435.5,228.9 443.5,231.6 451.5,235.0 459.5,237.0 467.5,237.7 475.5,237.7 483.5,238.1 491.5,241.0 499.5,244.6 507.5,253.4 515.5,258.0 523.5,264.4 531.5,271.7 539.5,275.7 547.5,275.4 555.5,277.7 563.5,276.1 571.5,276.5 579.5,277.5 587.5,278.4 595.5,281.4 603.5,278.7 611.5,271.8 619.5,263.8 627.5,257.2 635.5,250.3 643.5,246.0 651.5,238.7 659.5,238.3 667.5,241.3 675.5,245.4 683.5,248.4 691.5,251.8 699.5,256.5 707.5,263.8 715.5,273.2 723.5,289.1 731.5,302.4 739.5,316.6 747.5,328.3 755.5,339.1 763.5,355.0 771.5,368.0 779.5,378.7 787.5,387.1 795.5,395.1 803.5,404.6 811.5,412.3 819.5,410.8 827.5,413.2 835.5,414.7 843.5,421.1 851.5,426.7 859.5,436.6 867.5,445.7 875.5,458.9 883.5,468.8 891.5,475.9 899.5,483.3 907.5,492.9 915.5,498.5 923.5,501.8 931.5,504.3 939.5,502.4 947.5,498.6 955.5,491.2 963.5,484.8 971.5,476.1 979.5,464.6 987.5,450.7 995.5,437.0 1003.5,425.1 1011.5,410.5 1019.5,394.2 1027.5,381.2 1035.5,372.0 1043.5,361.6 1051.5,350.6 1059.5,339.8 1067.5,329.6 1075.5,318.5 1083.5,308.5 1091.5,305.4 1099.5,302.0 1107.5,297.4 1115.5,295.3 1123.5,296.6 1131.5,296.3 1139.5,288.7 1147.5,279.7 1155.5,273.8 1163.5,269.4 1171.5,270.0 1179.5,270.5 1187.5,268.1 1195.5,266.1 1203.5,258.8 1211.5,248.2 1219.5,239.0 1227.5,226.6 1235.5,216.5 1243.5,208.8 1251.5,206.2 1259.5,202.3 1267.5,200.4 1275.5,199.0 1283.5,192.0 1291.5,184.6 1299.5,179.4 1307.5,173.8 1315.5,170.5 1323.5,175.3 1331.5,181.1" fill="none" stroke="#ff0000" stroke-width="1" shape-rendering="crispEdges"/>
<polyline clip-path="url(#cm)" points="3.5,457.0 12.0,454.2 20.2,463.5 28.5,463.5 35.5,453.4 43.5,446.1 51.5,432.1 59.5,409.0 67.5,394.3 75.5,372.9 83.5,343.8 91.5,308.4 99.5,278.9 107.5,250.6 115.5,234.4 123.5,228.7 131.5,241.6 139.5,242.3 147.5,247.5 155.5,250.5 163.5,248.5 171.5,237.0 179.5,228.4 187.5,205.6 195.5,185.8 203.5,166.7 211.5,157.3 219.5,159.6 227.5,169.4 235.5,178.2 243.5,188.2 251.5,187.6 259.5,176.4 267.5,157.1 275.5,148.0 283.5,142.5 291.5,133.2 299.5,127.7 307.5,131.1 315.5,127.5 323.5,120.8 331.5,130.4 339.5,150.9 347.5,171.3 355.5,187.5 363.5,207.1 371.5,227.0 379.5,239.0 387.5,252.5 395.5,257.7 403.5,262.6 411.5,252.8 419.5,237.0 427.5,222.0 435.5,222.2 443.5,211.9 451.5,222.0 459.5,230.1 467.5,232.8 475.5,231.6 483.5,245.3 491.5,255.5 499.5,273.8 507.5,301.6 515.5,319.6 523.5,326.3 531.5,323.1 539.5,309.0 547.5,284.1 555.5,267.1 563.5,254.7 571.5,243.5 579.5,238.0 587.5,239.7 595.5,255.5 603.5,262.7 611.5,260.7 619.5,263.3 627.5,260.3 635.5,239.4 643.5,231.7 651.5,216.4 659.5,212.6 667.5,222.7 675.5,240.8 683.5,250.2 691.5,274.7 699.5,290.7 707.5,318.5 715.5,340.9 723.5,374.5 731.5,404.8 739.5,428.4 747.5,420.0 755.5,416.1 763.5,401.1 771.5,396.4 779.5,396.6 787.5,405.4 795.5,406.9 803.5,413.6 811.5,414.6 819.5,408.5 827.5,413.8 835.5,429.5 843.5,450.9 851.5,468.8 859.5,492.0 867.5,507.3 875.5,524.8 883.5,530.1 891.5,534.4 899.5,536.3 907.5,538.8 915.5,524.6 923.5,506.9 931.5,487.9 939.5,467.1 947.5,445.5 955.5,430.3 963.5,421.2 971.5,413.0 979.5,401.5 987.5,390.7 995.5,378.5 1003.5,367.1 1011.5,352.8 1019.5,341.8 1027.5,330.2 1035.5,324.9 1043.5,310.0 1051.5,299.4 1059.5,293.0 1067.5,285.8 1075.5,271.5 1083.5,264.5 1091.5,274.9 1099.5,284.9 1107.5,288.2 1115.5,302.1 1123.5,319.5 1131.5,316.4 1139.5,292.9 1147.5,275.4 1155.5,249.9 1163.5,223.1 1171.5,219.2 1179.5,234.9 1187.5,238.9 1195.5,243.1 1203.5,245.1 1211.5,223.8 1219.5,199.9 1227.5,185.9 1235.5,180.7 1243.5,176.4 1251.5,175.4 1259.5,172.6 1267.5,176.5 1275.5,174.0 1283.5,172.2 1291.5,174.4 1299.5,174.9 1307.5,168.6 1315.5,165.5 1323.5,177.3 1331.5,190.2" fill="none" stroke="#ffa500" stroke-width="1" shape-rendering="crispEdges"/>
<rect x="3" y="92" width="1680" height="2" fill="#ff0000"/>
<rect x="2" y="90" width="6" height="6" fill="#ff0000"/>
<rect x="4" y="92" width="2" height="2" fill="#fff"/>
<rect x="1677" y="90" width="6" height="6" fill="#ff0000"/>
<rect x="1679" y="92" width="2" height="2" fill="#fff"/>
<rect x="3" y="173" width="1680" height="2" fill="#ff0000"/>
<rect x="2" y="171" width="6" height="6" fill="#ff0000"/>
<rect x="4" y="173" width="2" height="2" fill="#fff"/>
<rect x="1677" y="171" width="6" height="6" fill="#ff0000"/>
<rect x="1679" y="173" width="2" height="2" fill="#fff"/>
<rect x="3" y="256" width="1680" height="2" fill="#00ff00"/>
<rect x="2" y="254" width="6" height="6" fill="#00ff00"/>
<rect x="4" y="256" width="2" height="2" fill="#fff"/>
<rect x="1677" y="254" width="6" height="6" fill="#00ff00"/>
<rect x="1679" y="256" width="2" height="2" fill="#fff"/>
<rect x="3" y="337" width="1680" height="2" fill="#0000cd"/>
<rect x="2" y="335" width="6" height="6" fill="#0000cd"/>
<rect x="4" y="337" width="2" height="2" fill="#fff"/>
<rect x="1677" y="335" width="6" height="6" fill="#0000cd"/>
<rect x="1679" y="337" width="2" height="2" fill="#fff"/>
<rect x="3" y="418" width="1680" height="2" fill="#0000ff"/>
<path d="M6 34 L13 34 L9.5 38 Z" fill="#000"/>
<text x="18.4" y="39" font-size="9.5" fill="#000" stroke="#000" stroke-width="0.15" textLength="63" lengthAdjust="spacingAndGlyphs">EURUSD,Daily</text>
<text x="88.6" y="39" font-size="9.5" fill="#000" stroke="#000" stroke-width="0.15" textLength="140.2" lengthAdjust="spacingAndGlyphs">1.21207 1.21331 1.21136 1.21173</text>
<rect x="1684" y="30" width="2" height="1" fill="#000"/>
<text x="1689.7" y="33.6" font-size="9" fill="#000" stroke="#000" stroke-width="0.15" textLength="32" lengthAdjust="spacingAndGlyphs">1.23790</text>
<rect x="1684" y="63" width="2" height="1" fill="#000"/>
<text x="1689.7" y="66.6" font-size="9" fill="#000" stroke="#000" stroke-width="0.15" textLength="32" lengthAdjust="spacingAndGlyphs">1.23390</text>
<rect x="1684" y="96" width="2" height="1" fill="#000"/>
<text x="1689.7" y="99.6" font-size="9" fill="#000" stroke="#000" stroke-width="0.15" textLength="32" lengthAdjust="spacingAndGlyphs">1.22980</text>
<rect x="1684" y="129" width="2" height="1" fill="#000"/>
<text x="1689.7" y="132.6" font-size="9" fill="#000" stroke="#000" stroke-width="0.15" textLength="32" lengthAdjust="spacingAndGlyphs">1.22570</text>
<rect x="1684" y="162" width="2" height="1" fill="#000"/>
<text x="1689.7" y="165.6" font-size="9" fill="#000" stroke="#000" stroke-width="0.15" textLength="32" lengthAdjust="spacingAndGlyphs">1.22170</text>
<rect x="1684" y="195" width="2" height="1" fill="#000"/>
<text x="1689.7" y="198.6" font-size="9" fill="#000" stroke="#000" stroke-width="0.15" textLength="32" lengthAdjust="spacingAndGlyphs">1.21760</text>
<rect x="1684" y="228" width="2" height="1" fill="#000"/>
<text x="1689.7" y="231.6" font-size="9" fill="#000" stroke="#000" stroke-width="0.15" textLength="32" lengthAdjust="spacingAndGlyphs">1.21360</text>
<rect x="1684" y="261" width="2" height="1" fill="#000"/>
<text x="1689.7" y="264.6" font-size="9" fill="#000" stroke="#000" stroke-width="0.15" textLength="32" lengthAdjust="spacingAndGlyphs">1.20950</text>
<rect x="1684" y="294" width="2" height="1" fill="#000"/>
<text x="1689.7" y="297.6" font-size="9" fill="#000" stroke="#000" stroke-width="0.15" textLength="32" lengthAdjust="spacingAndGlyphs">1.20550</text>
<rect x="1684" y="327" width="2" height="1" fill="#000"/>
<text x="1689.7" y="330.6" font-size="9" fill="#000" stroke="#000" stroke-width="0.15" textLength="32" lengthAdjust="spacingAndGlyphs">1.20140</text>
<rect x="1684" y="360" width="2" height="1" fill="#000"/>
<text x="1689.7" y="363.6" font-size="9" fill="#000" stroke="#000" stroke-width="0.15" textLength="32" lengthAdjust="spacingAndGlyphs">1.19740</text>
<rect x="1684" y="393" width="2" height="1" fill="#000"/>
<text x="1689.7" y="396.6" font-size="9" fill="#000" stroke="#000" stroke-width="0.15" textLength="32" lengthAdjust="spacingAndGlyphs">1.19330</text>
<rect x="1684" y="426" width="2" height="1" fill="#000"/>
<text x="1689.7" y="429.6" font-size="9" fill="#000" stroke="#000" stroke-width="0.15" textLength="32" lengthAdjust="spacingAndGlyphs">1.18930</text>
<rect x="1684" y="459" width="2" height="1" fill="#000"/>
<text x="1689.7" y="462.6" font-size="9" fill="#000" stroke="#000" stroke-width="0.15" textLength="32" lengthAdjust="spacingAndGlyphs">1.18520</text>
<rect x="1684" y="492" width="2" height="1" fill="#000"/>
<text x="1689.7" y="495.6" font-size="9" fill="#000" stroke="#000" stroke-width="0.15" textLength="32" lengthAdjust="spacingAndGlyphs">1.18120</text>
<rect x="1684" y="525" width="2" height="1" fill="#000"/>
<text x="1689.7" y="528.6" font-size="9" fill="#000" stroke="#000" stroke-width="0.15" textLength="32" lengthAdjust="spacingAndGlyphs">1.17710</text>
<rect x="1684" y="558" width="2" height="1" fill="#000"/>
<text x="1689.7" y="561.6" font-size="9" fill="#000" stroke="#000" stroke-width="0.15" textLength="32" lengthAdjust="spacingAndGlyphs">1.17300</text>
<rect x="1684" y="591" width="2" height="1" fill="#000"/>
<text x="1689.7" y="594.6" font-size="9" fill="#000" stroke="#000" stroke-width="0.15" textLength="32" lengthAdjust="spacingAndGlyphs">1.16900</text>
<rect x="1685" y="87" width="41" height="11" fill="#ff0000"/>
<text x="1689.7" y="95.2" font-size="9" fill="#fff" stroke="#fff" stroke-width="0.15" textLength="32" lengthAdjust="spacingAndGlyphs">1.23017</text>
<rect x="1685" y="168" width="41" height="11" fill="#ff0000"/>
<text x="1689.7" y="176.2" font-size="9" fill="#fff" stroke="#fff" stroke-width="0.15" textLength="32" lengthAdjust="spacingAndGlyphs">1.22025</text>
<rect x="1685" y="238" width="41" height="11" fill="#000000"/>
<text x="1689.7" y="246.2" font-size="9" fill="#fff" stroke="#fff" stroke-width="0.15" textLength="32" lengthAdjust="spacingAndGlyphs">1.21173</text>
<rect x="1685" y="251" width="41" height="11" fill="#00ff00"/>
<text x="1689.7" y="259.2" font-size="9" fill="#fff" stroke="#fff" stroke-width="0.15" textLength="32" lengthAdjust="spacingAndGlyphs">1.21002</text>
<rect x="1685" y="332" width="41" height="11" fill="#0000cd"/>
<text x="1689.7" y="340.2" font-size="9" fill="#fff" stroke="#fff" stroke-width="0.15" textLength="32" lengthAdjust="spacingAndGlyphs">1.20010</text>
<rect x="1685" y="413" width="41" height="11" fill="#0000ff"/>
<text x="1689.7" y="421.2" font-size="9" fill="#fff" stroke="#fff" stroke-width="0.15" textLength="32" lengthAdjust="spacingAndGlyphs">1.19018</text>
<line x1="3" y1="628.5" x2="1683" y2="628.5" stroke="#c0c0c0" stroke-width="1" stroke-dasharray="3,3" shape-rendering="crispEdges"/>
<line x1="3" y1="669.5" x2="1683" y2="669.5" stroke="#c0c0c0" stroke-width="1" stroke-dasharray="3,3" shape-rendering="crispEdges"/>
<polyline clip-path="url(#cr)" points="3.5,643.4 11.5,643.0 19.5,648.8 27.5,642.2 35.5,639.6 43.5,639.8 51.5,635.5 59.5,634.3 67.5,633.7 75.5,628.1 83.5,625.0 91.5,620.5 99.5,624.2 107.5,624.6 115.5,625.4 123.5,629.0 131.5,634.2 139.5,629.9 147.5,634.7 155.5,633.9 163.5,632.9 171.5,630.5 179.5,627.7 187.5,623.7 195.5,625.5 203.5,625.1 211.5,631.1 219.5,637.6 227.5,636.4 235.5,637.0 243.5,637.3 251.5,633.3 259.5,630.6 267.5,625.5 275.5,637.1 283.5,640.7 291.5,635.1 299.5,634.9 307.5,634.3 315.5,638.1 323.5,638.9 331.5,645.6 339.5,654.1 347.5,653.0 355.5,652.6 363.5,655.9 371.5,660.8 379.5,662.5 387.5,662.8 395.5,653.5 403.5,656.4 411.5,649.4 419.5,646.7 427.5,647.7 435.5,653.1 443.5,647.4 451.5,656.7 459.5,652.5 467.5,649.2 475.5,650.9 483.5,656.7 491.5,662.0 499.5,663.4 507.5,666.1 515.5,659.3 523.5,656.9 531.5,656.2 539.5,649.6 547.5,645.7 555.5,646.0 563.5,647.4 571.5,647.8 579.5,645.8 587.5,647.4 595.5,659.0 603.5,652.9 611.5,646.2 619.5,647.9 627.5,645.0 635.5,642.6 643.5,648.1 651.5,637.8 659.5,647.5 667.5,653.3 675.5,655.7 683.5,654.1 691.5,653.1 699.5,656.2 707.5,666.2 715.5,665.5 723.5,668.9 731.5,665.2 739.5,664.0 747.5,656.6 755.5,658.4 763.5,656.9 771.5,659.8 779.5,661.5 787.5,660.1 795.5,657.1 803.5,659.0 811.5,658.8 819.5,655.4 827.5,661.5 835.5,665.2 843.5,669.2 851.5,665.8 859.5,666.5 867.5,667.4 875.5,671.6 883.5,668.1 891.5,663.4 899.5,662.6 907.5,664.0 915.5,656.3 923.5,650.6 931.5,646.0 939.5,644.2 947.5,645.5 955.5,644.5 963.5,644.0 971.5,639.9 979.5,635.8 987.5,638.3 995.5,636.3 1003.5,636.7 1011.5,631.2 1019.5,629.6 1027.5,631.8 1035.5,636.5 1043.5,630.4 1051.5,628.2 1059.5,630.4 1067.5,631.4 1075.5,629.2 1083.5,628.1 1091.5,644.0 1099.5,645.4 1107.5,640.6 1115.5,647.5 1123.5,648.9 1131.5,643.0 1139.5,632.0 1147.5,632.0 1155.5,631.5 1163.5,631.9 1171.5,646.4 1179.5,646.9 1187.5,639.4 1195.5,639.0 1203.5,637.9 1211.5,633.6 1219.5,632.5 1227.5,631.6 1235.5,639.7 1243.5,639.2 1251.5,636.3 1259.5,634.1 1267.5,639.2 1275.5,640.9 1283.5,640.8 1291.5,640.4 1299.5,636.2 1307.5,634.8 1315.5,640.8 1323.5,654.4 1331.5,654.9" fill="none" stroke="#1e90ff" stroke-width="1" shape-rendering="crispEdges"/>
<text x="7" y="609" font-size="9.5" fill="#000" stroke="#000" stroke-width="0.15" textLength="67.5" lengthAdjust="spacingAndGlyphs">RSI(14) 44.6765</text>
<rect x="1684" y="598" width="2" height="1" fill="#000"/>
<text x="1686" y="607" font-size="9" fill="#000" stroke="#000" stroke-width="0.15">100</text>
<text x="1686" y="632" font-size="9" fill="#000" stroke="#000" stroke-width="0.15">70</text>
<text x="1686" y="673" font-size="9" fill="#000" stroke="#000" stroke-width="0.15">30</text>
<text x="1686" y="697" font-size="9" fill="#000" stroke="#000" stroke-width="0.15">0</text>
<g clip-path="url(#cd)" shape-rendering="crispEdges">
<rect x="3" y="747" width="1" height="13" fill="#c0c0c0"/>
<rect x="11" y="746" width="1" height="14" fill="#c0c0c0"/>
<rect x="19" y="747" width="1" height="13" fill="#c0c0c0"/>
<rect x="27" y="746" width="1" height="14" fill="#c0c0c0"/>
<rect x="35" y="744" width="1" height="16" fill="#c0c0c0"/>
<rect x="43" y="742" width="1" height="18" fill="#c0c0c0"/>
<rect x="51" y="739" width="1" height="21" fill="#c0c0c0"/>
<rect x="59" y="737" width="1" height="23" fill="#c0c0c0"/>
<rect x="67" y="735" width="1" height="25" fill="#c0c0c0"/>
<rect x="75" y="730" width="1" height="30" fill="#c0c0c0"/>
<rect x="83" y="725" width="1" height="35" fill="#c0c0c0"/>
<rect x="91" y="718" width="1" height="42" fill="#c0c0c0"/>
<rect x="99" y="713" width="1" height="47" fill="#c0c0c0"/>
<rect x="107" y="710" width="1" height="50" fill="#c0c0c0"/>
<rect x="115" y="709" width="1" height="51" fill="#c0c0c0"/>
<rect x="123" y="709" width="1" height="51" fill="#c0c0c0"/>
<rect x="131" y="712" width="1" height="48" fill="#c0c0c0"/>
<rect x="139" y="711" width="1" height="49" fill="#c0c0c0"/>
<rect x="147" y="713" width="1" height="47" fill="#c0c0c0"/>
<rect x="155" y="715" width="1" height="45" fill="#c0c0c0"/>
<rect x="163" y="716" width="1" height="44" fill="#c0c0c0"/>
<rect x="171" y="716" width="1" height="44" fill="#c0c0c0"/>
<rect x="179" y="715" width="1" height="45" fill="#c0c0c0"/>
<rect x="187" y="712" width="1" height="48" fill="#c0c0c0"/>
<rect x="195" y="711" width="1" height="49" fill="#c0c0c0"/>
<rect x="203" y="711" width="1" height="49" fill="#c0c0c0"/>
<rect x="211" y="712" width="1" height="48" fill="#c0c0c0"/>
<rect x="219" y="715" width="1" height="45" fill="#c0c0c0"/>
<rect x="227" y="718" width="1" height="42" fill="#c0c0c0"/>
<rect x="235" y="720" width="1" height="40" fill="#c0c0c0"/>
<rect x="243" y="723" width="1" height="37" fill="#c0c0c0"/>
<rect x="251" y="724" width="1" height="36" fill="#c0c0c0"/>
<rect x="259" y="724" width="1" height="36" fill="#c0c0c0"/>
<rect x="267" y="721" width="1" height="39" fill="#c0c0c0"/>
<rect x="275" y="723" width="1" height="37" fill="#c0c0c0"/>
<rect x="283" y="725" width="1" height="35" fill="#c0c0c0"/>
<rect x="291" y="725" width="1" height="35" fill="#c0c0c0"/>
<rect x="299" y="725" width="1" height="35" fill="#c0c0c0"/>
<rect x="307" y="725" width="1" height="35" fill="#c0c0c0"/>
<rect x="315" y="727" width="1" height="33" fill="#c0c0c0"/>
<rect x="323" y="729" width="1" height="31" fill="#c0c0c0"/>
<rect x="331" y="732" width="1" height="28" fill="#c0c0c0"/>
<rect x="339" y="738" width="1" height="22" fill="#c0c0c0"/>
<rect x="347" y="743" width="1" height="17" fill="#c0c0c0"/>
<rect x="355" y="746" width="1" height="14" fill="#c0c0c0"/>
<rect x="363" y="751" width="1" height="9" fill="#c0c0c0"/>
<rect x="371" y="756" width="1" height="4" fill="#c0c0c0"/>
<rect x="379" y="759" width="1" height="3" fill="#c0c0c0"/>
<rect x="387" y="759" width="1" height="7" fill="#c0c0c0"/>
<rect x="395" y="759" width="1" height="7" fill="#c0c0c0"/>
<rect x="403" y="759" width="1" height="9" fill="#c0c0c0"/>
<rect x="411" y="759" width="1" height="7" fill="#c0c0c0"/>
<rect x="419" y="759" width="1" height="6" fill="#c0c0c0"/>
<rect x="427" y="759" width="1" height="4" fill="#c0c0c0"/>
<rect x="435" y="759" width="1" height="5" fill="#c0c0c0"/>
<rect x="443" y="759" width="1" height="4" fill="#c0c0c0"/>
<rect x="451" y="759" width="1" height="6" fill="#c0c0c0"/>
<rect x="459" y="759" width="1" height="7" fill="#c0c0c0"/>
<rect x="467" y="759" width="1" height="6" fill="#c0c0c0"/>
<rect x="475" y="759" width="1" height="6" fill="#c0c0c0"/>
<rect x="483" y="759" width="1" height="8" fill="#c0c0c0"/>
<rect x="491" y="759" width="1" height="12" fill="#c0c0c0"/>
<rect x="499" y="759" width="1" height="16" fill="#c0c0c0"/>
<rect x="507" y="759" width="1" height="20" fill="#c0c0c0"/>
<rect x="515" y="759" width="1" height="21" fill="#c0c0c0"/>
<rect x="523" y="759" width="1" height="21" fill="#c0c0c0"/>
<rect x="531" y="759" width="1" height="20" fill="#c0c0c0"/>
<rect x="539" y="759" width="1" height="17" fill="#c0c0c0"/>
<rect x="547" y="759" width="1" height="13" fill="#c0c0c0"/>
<rect x="555" y="759" width="1" height="10" fill="#c0c0c0"/>
<rect x="563" y="759" width="1" height="8" fill="#c0c0c0"/>
<rect x="571" y="759" width="1" height="6" fill="#c0c0c0"/>
<rect x="579" y="759" width="1" height="4" fill="#c0c0c0"/>
<rect x="587" y="759" width="1" height="3" fill="#c0c0c0"/>
<rect x="595" y="759" width="1" height="6" fill="#c0c0c0"/>
<rect x="603" y="759" width="1" height="7" fill="#c0c0c0"/>
<rect x="611" y="759" width="1" height="5" fill="#c0c0c0"/>
<rect x="619" y="759" width="1" height="3" fill="#c0c0c0"/>
<rect x="635" y="757" width="1" height="3" fill="#c0c0c0"/>
<rect x="643" y="757" width="1" height="3" fill="#c0c0c0"/>
<rect x="651" y="752" width="1" height="8" fill="#c0c0c0"/>
<rect x="659" y="752" width="1" height="8" fill="#c0c0c0"/>
<rect x="667" y="755" width="1" height="5" fill="#c0c0c0"/>
<rect x="683" y="759" width="1" height="3" fill="#c0c0c0"/>
<rect x="691" y="759" width="1" height="4" fill="#c0c0c0"/>
<rect x="699" y="759" width="1" height="7" fill="#c0c0c0"/>
<rect x="707" y="759" width="1" height="15" fill="#c0c0c0"/>
<rect x="715" y="759" width="1" height="20" fill="#c0c0c0"/>
<rect x="723" y="759" width="1" height="27" fill="#c0c0c0"/>
<rect x="731" y="759" width="1" height="31" fill="#c0c0c0"/>
<rect x="739" y="759" width="1" height="33" fill="#c0c0c0"/>
<rect x="747" y="759" width="1" height="31" fill="#c0c0c0"/>
<rect x="755" y="759" width="1" height="31" fill="#c0c0c0"/>
<rect x="763" y="759" width="1" height="29" fill="#c0c0c0"/>
<rect x="771" y="759" width="1" height="30" fill="#c0c0c0"/>
<rect x="779" y="759" width="1" height="30" fill="#c0c0c0"/>
<rect x="787" y="759" width="1" height="30" fill="#c0c0c0"/>
<rect x="795" y="759" width="1" height="29" fill="#c0c0c0"/>
<rect x="803" y="759" width="1" height="28" fill="#c0c0c0"/>
<rect x="811" y="759" width="1" height="27" fill="#c0c0c0"/>
<rect x="819" y="759" width="1" height="25" fill="#c0c0c0"/>
<rect x="827" y="759" width="1" height="26" fill="#c0c0c0"/>
<rect x="835" y="759" width="1" height="28" fill="#c0c0c0"/>
<rect x="843" y="759" width="1" height="32" fill="#c0c0c0"/>
<rect x="851" y="759" width="1" height="34" fill="#c0c0c0"/>
<rect x="859" y="759" width="1" height="35" fill="#c0c0c0"/>
<rect x="867" y="759" width="1" height="36" fill="#c0c0c0"/>
<rect x="875" y="759" width="1" height="39" fill="#c0c0c0"/>
<rect x="883" y="759" width="1" height="40" fill="#c0c0c0"/>
<rect x="891" y="759" width="1" height="39" fill="#c0c0c0"/>
<rect x="899" y="759" width="1" height="38" fill="#c0c0c0"/>
<rect x="907" y="759" width="1" height="37" fill="#c0c0c0"/>
<rect x="915" y="759" width="1" height="34" fill="#c0c0c0"/>
<rect x="923" y="759" width="1" height="29" fill="#c0c0c0"/>
<rect x="931" y="759" width="1" height="23" fill="#c0c0c0"/>
<rect x="939" y="759" width="1" height="18" fill="#c0c0c0"/>
<rect x="947" y="759" width="1" height="14" fill="#c0c0c0"/>
<rect x="955" y="759" width="1" height="10" fill="#c0c0c0"/>
<rect x="963" y="759" width="1" height="7" fill="#c0c0c0"/>
<rect x="971" y="759" width="1" height="3" fill="#c0c0c0"/>
<rect x="979" y="756" width="1" height="4" fill="#c0c0c0"/>
<rect x="987" y="753" width="1" height="7" fill="#c0c0c0"/>
<rect x="995" y="750" width="1" height="10" fill="#c0c0c0"/>
<rect x="1003" y="748" width="1" height="12" fill="#c0c0c0"/>
<rect x="1011" y="744" width="1" height="16" fill="#c0c0c0"/>
<rect x="1019" y="740" width="1" height="20" fill="#c0c0c0"/>
<rect x="1027" y="738" width="1" height="22" fill="#c0c0c0"/>
<rect x="1035" y="738" width="1" height="22" fill="#c0c0c0"/>
<rect x="1043" y="735" width="1" height="25" fill="#c0c0c0"/>
<rect x="1051" y="732" width="1" height="28" fill="#c0c0c0"/>
<rect x="1059" y="731" width="1" height="29" fill="#c0c0c0"/>
<rect x="1067" y="730" width="1" height="30" fill="#c0c0c0"/>
<rect x="1075" y="729" width="1" height="31" fill="#c0c0c0"/>
<rect x="1083" y="728" width="1" height="32" fill="#c0c0c0"/>
<rect x="1091" y="731" width="1" height="29" fill="#c0c0c0"/>
<rect x="1099" y="734" width="1" height="26" fill="#c0c0c0"/>
<rect x="1107" y="735" width="1" height="25" fill="#c0c0c0"/>
<rect x="1115" y="738" width="1" height="22" fill="#c0c0c0"/>
<rect x="1123" y="742" width="1" height="18" fill="#c0c0c0"/>
<rect x="1131" y="742" width="1" height="18" fill="#c0c0c0"/>
<rect x="1139" y="738" width="1" height="22" fill="#c0c0c0"/>
<rect x="1147" y="734" width="1" height="26" fill="#c0c0c0"/>
<rect x="1155" y="732" width="1" height="28" fill="#c0c0c0"/>
<rect x="1163" y="730" width="1" height="30" fill="#c0c0c0"/>
<rect x="1171" y="734" width="1" height="26" fill="#c0c0c0"/>
<rect x="1179" y="737" width="1" height="23" fill="#c0c0c0"/>
<rect x="1187" y="736" width="1" height="24" fill="#c0c0c0"/>
<rect x="1195" y="736" width="1" height="24" fill="#c0c0c0"/>
<rect x="1203" y="735" width="1" height="25" fill="#c0c0c0"/>
<rect x="1211" y="733" width="1" height="27" fill="#c0c0c0"/>
<rect x="1219" y="731" width="1" height="29" fill="#c0c0c0"/>
<rect x="1227" y="729" width="1" height="31" fill="#c0c0c0"/>
<rect x="1235" y="731" width="1" height="29" fill="#c0c0c0"/>
<rect x="1243" y="732" width="1" height="28" fill="#c0c0c0"/>
<rect x="1251" y="731" width="1" height="29" fill="#c0c0c0"/>
<rect x="1259" y="731" width="1" height="29" fill="#c0c0c0"/>
<rect x="1267" y="732" width="1" height="28" fill="#c0c0c0"/>
<rect x="1275" y="733" width="1" height="27" fill="#c0c0c0"/>
<rect x="1283" y="735" width="1" height="25" fill="#c0c0c0"/>
<rect x="1291" y="736" width="1" height="24" fill="#c0c0c0"/>
<rect x="1299" y="736" width="1" height="24" fill="#c0c0c0"/>
<rect x="1307" y="735" width="1" height="25" fill="#c0c0c0"/>
<rect x="1315" y="737" width="1" height="23" fill="#c0c0c0"/>
<rect x="1323" y="742" width="1" height="18" fill="#c0c0c0"/>
<rect x="1331" y="747" width="1" height="13" fill="#c0c0c0"/>
</g>
<polyline clip-path="url(#cd)" points="3.5,747.3 11.5,746.9 19.5,747.2 27.5,747.0 35.5,746.4 43.5,745.8 51.5,745.0 59.5,744.0 67.5,743.0 75.5,741.1 83.5,738.8 91.5,735.5 99.5,731.9 107.5,728.2 115.5,724.5 123.5,721.1 131.5,718.3 139.5,715.8 147.5,713.9 155.5,712.8 163.5,712.6 171.5,712.9 179.5,713.5 187.5,713.9 195.5,714.1 203.5,714.0 211.5,714.0 219.5,714.2 227.5,714.6 235.5,715.1 243.5,715.8 251.5,716.8 259.5,718.0 267.5,719.2 275.5,720.5 283.5,722.0 291.5,723.1 299.5,723.9 307.5,724.5 315.5,724.9 323.5,725.5 331.5,726.4 339.5,728.3 347.5,730.6 355.5,732.9 363.5,735.7 371.5,739.1 379.5,743.0 387.5,747.2 395.5,751.3 403.5,755.1 411.5,758.1 419.5,760.4 427.5,762.1 435.5,763.5 443.5,764.2 451.5,764.6 459.5,764.6 467.5,764.5 475.5,764.1 483.5,764.2 491.5,764.8 499.5,766.1 507.5,767.7 515.5,769.6 523.5,771.3 531.5,772.8 539.5,774.0 547.5,774.9 555.5,775.2 563.5,774.8 571.5,773.7 579.5,772.0 587.5,770.1 595.5,768.4 603.5,767.0 611.5,765.5 619.5,764.4 627.5,763.5 635.5,762.5 643.5,761.6 651.5,760.5 659.5,759.5 667.5,758.5 675.5,757.8 683.5,757.7 691.5,757.8 699.5,758.3 707.5,760.1 715.5,762.5 723.5,766.1 731.5,770.2 739.5,774.1 747.5,777.5 755.5,780.6 763.5,783.3 771.5,785.9 779.5,787.6 787.5,788.7 795.5,788.9 803.5,788.6 811.5,787.9 819.5,787.2 827.5,786.7 835.5,786.5 843.5,786.8 851.5,787.2 859.5,787.7 867.5,788.6 875.5,789.8 883.5,791.3 891.5,792.8 899.5,794.1 907.5,795.1 915.5,795.3 923.5,794.8 931.5,793.5 939.5,791.4 947.5,788.6 955.5,785.3 963.5,781.7 971.5,777.8 979.5,773.5 987.5,769.3 995.5,765.2 1003.5,761.5 1011.5,757.9 1019.5,754.4 1027.5,751.1 1035.5,748.1 1043.5,745.2 1051.5,742.6 1059.5,740.1 1067.5,737.9 1075.5,735.8 1083.5,734.0 1091.5,732.9 1099.5,732.5 1107.5,732.2 1115.5,732.6 1123.5,733.6 1131.5,734.9 1139.5,735.7 1147.5,736.3 1155.5,736.8 1163.5,736.7 1171.5,736.6 1179.5,736.8 1187.5,736.5 1195.5,735.9 1203.5,735.1 1211.5,734.6 1219.5,734.3 1227.5,734.0 1235.5,734.0 1243.5,733.8 1251.5,733.2 1259.5,732.6 1267.5,732.1 1275.5,731.9 1283.5,732.1 1291.5,732.7 1299.5,733.4 1307.5,733.9 1315.5,734.5 1323.5,735.7 1331.5,737.4" fill="none" stroke="#ff0000" stroke-width="1" stroke-dasharray="3,3" shape-rendering="crispEdges"/>
<text x="7.3" y="715" font-size="9.5" fill="#000" stroke="#000" stroke-width="0.15" textLength="147.3" lengthAdjust="spacingAndGlyphs">MACD(12,26,9) 0.002248 0.003956</text>
<rect x="1684" y="703" width="2" height="1" fill="#000"/>
<rect x="1684" y="759" width="2" height="1" fill="#000"/>
<rect x="1684" y="804" width="2" height="1" fill="#000"/>
<text x="1687" y="713" font-size="9" fill="#000" stroke="#000" stroke-width="0.15">0.009478</text>
<text x="1687" y="763" font-size="9" fill="#000" stroke="#000" stroke-width="0.15">0.00</text>
<text x="1687" y="803" font-size="9" fill="#000" stroke="#000" stroke-width="0.15">-0.007778</text>
<rect x="3" y="806" width="1" height="3" fill="#000"/>
<text x="2" y="818" font-size="9.5" fill="#000" stroke="#000" stroke-width="0.15">20 Nov 2020</text>
<rect x="67" y="806" width="1" height="3" fill="#000"/>
<text x="66" y="818" font-size="9.5" fill="#000" stroke="#000" stroke-width="0.15">30 Nov 2020</text>
<rect x="131" y="806" width="1" height="3" fill="#000"/>
<text x="130" y="818" font-size="9.5" fill="#000" stroke="#000" stroke-width="0.15">9 Dec 2020</text>
<rect x="195" y="806" width="1" height="3" fill="#000"/>
<text x="194" y="818" font-size="9.5" fill="#000" stroke="#000" stroke-width="0.15">18 Dec 2020</text>
<rect x="259" y="806" width="1" height="3" fill="#000"/>
<text x="258" y="818" font-size="9.5" fill="#000" stroke="#000" stroke-width="0.15">29 Dec 2020</text>
<rect x="323" y="806" width="1" height="3" fill="#000"/>
<text x="322" y="818" font-size="9.5" fill="#000" stroke="#000" stroke-width="0.15">8 Jan 2021</text>
<rect x="387" y="806" width="1" height="3" fill="#000"/>
<text x="386" y="818" font-size="9.5" fill="#000" stroke="#000" stroke-width="0.15">18 Jan 2021</text>
<rect x="451" y="806" width="1" height="3" fill="#000"/>
<text x="450" y="818" font-size="9.5" fill="#000" stroke="#000" stroke-width="0.15">27 Jan 2021</text>
<rect x="515" y="806" width="1" height="3" fill="#000"/>
<text x="514" y="818" font-size="9.5" fill="#000" stroke="#000" stroke-width="0.15">5 Feb 2021</text>
<rect x="579" y="806" width="1" height="3" fill="#000"/>
<text x="578" y="818" font-size="9.5" fill="#000" stroke="#000" stroke-width="0.15">15 Feb 2021</text>
<rect x="643" y="806" width="1" height="3" fill="#000"/>
<text x="642" y="818" font-size="9.5" fill="#000" stroke="#000" stroke-width="0.15">24 Feb 2021</text>
<rect x="707" y="806" width="1" height="3" fill="#000"/>
<text x="706" y="818" font-size="9.5" fill="#000" stroke="#000" stroke-width="0.15">5 Mar 2021</text>
<rect x="771" y="806" width="1" height="3" fill="#000"/>
<text x="770" y="818" font-size="9.5" fill="#000" stroke="#000" stroke-width="0.15">15 Mar 2021</text>
<rect x="835" y="806" width="1" height="3" fill="#000"/>
<text x="834" y="818" font-size="9.5" fill="#000" stroke="#000" stroke-width="0.15">24 Mar 2021</text>
<rect x="899" y="806" width="1" height="3" fill="#000"/>
<text x="898" y="818" font-size="9.5" fill="#000" stroke="#000" stroke-width="0.15">2 Apr 2021</text>
<rect x="963" y="806" width="1" height="3" fill="#000"/>
<text x="962" y="818" font-size="9.5" fill="#000" stroke="#000" stroke-width="0.15">12 Apr 2021</text>
<rect x="1027" y="806" width="1" height="3" fill="#000"/>
<text x="1026" y="818" font-size="9.5" fill="#000" stroke="#000" stroke-width="0.15">21 Apr 2021</text>
<rect x="1091" y="806" width="1" height="3" fill="#000"/>
<text x="1090" y="818" font-size="9.5" fill="#000" stroke="#000" stroke-width="0.15">30 Apr 2021</text>
<rect x="1155" y="806" width="1" height="3" fill="#000"/>
<text x="1154" y="818" font-size="9.5" fill="#000" stroke="#000" stroke-width="0.15">10 May 2021</text>
<rect x="1219" y="806" width="1" height="3" fill="#000"/>
<text x="1218" y="818" font-size="9.5" fill="#000" stroke="#000" stroke-width="0.15">19 May 2021</text>
<rect x="1283" y="806" width="1" height="3" fill="#000"/>
<text x="1282" y="818" font-size="9.5" fill="#000" stroke="#000" stroke-width="0.15">28 May 2021</text>
<rect x="0" y="826" width="1726" height="1" fill="#e3e3e3"/>
<rect x="0" y="828" width="1726" height="1" fill="#000"/>
<rect x="0" y="829" width="1726" height="19" fill="#f0f0f0"/>
<rect x="0" y="848" width="1726" height="1" fill="#ffffff"/>
<rect x="0" y="849" width="1726" height="2" fill="#f0f0f0"/>
<rect x="208" y="828" width="104" height="19" fill="#ffffff"/>
<rect x="208" y="828" width="1" height="19" fill="#000"/>
<rect x="311" y="828" width="1" height="19" fill="#000"/>
<rect x="208" y="846" width="104" height="1" fill="#000"/>
<text x="14.2" y="843" font-size="12" fill="#6a6a6a" textLength="78.6" lengthAdjust="spacingAndGlyphs">USDCHF,Daily</text>
<text x="114.3" y="843" font-size="12" fill="#6a6a6a" textLength="82.8" lengthAdjust="spacingAndGlyphs">USDCNH,Daily</text>
<text x="220.5" y="843" font-size="12" fill="#000" textLength="79.2" lengthAdjust="spacingAndGlyphs">EURUSD,Daily</text>
<text x="323.1" y="843" font-size="12" fill="#6a6a6a" textLength="82.0" lengthAdjust="spacingAndGlyphs">AUDUSD,Daily</text>
<text x="427" y="843" font-size="12" fill="#6a6a6a" textLength="81" lengthAdjust="spacingAndGlyphs">USDCAD,Daily</text>
<text x="531.1" y="843" font-size="12" fill="#6a6a6a" textLength="68.2" lengthAdjust="spacingAndGlyphs">XAUUSD,H1</text>
<text x="622.4" y="843" font-size="12" fill="#6a6a6a" textLength="62.5" lengthAdjust="spacingAndGlyphs">USOil,Daily</text>
<rect x="104" y="831" width="1" height="14" fill="#6a6a6a"/>
<rect x="416" y="831" width="1" height="14" fill="#6a6a6a"/>
<rect x="520" y="831" width="1" height="14" fill="#6a6a6a"/>
<rect x="612" y="831" width="1" height="14" fill="#6a6a6a"/>
<rect x="696" y="831" width="1" height="14" fill="#6a6a6a"/>
<path d="M1702 834 L1702 840.5 L1699 837.2 Z" fill="#a0a0a0"/>
<path d="M1718 834 L1718 840.5 L1721 837.2 Z" fill="#a0a0a0"/></svg></body></html>
